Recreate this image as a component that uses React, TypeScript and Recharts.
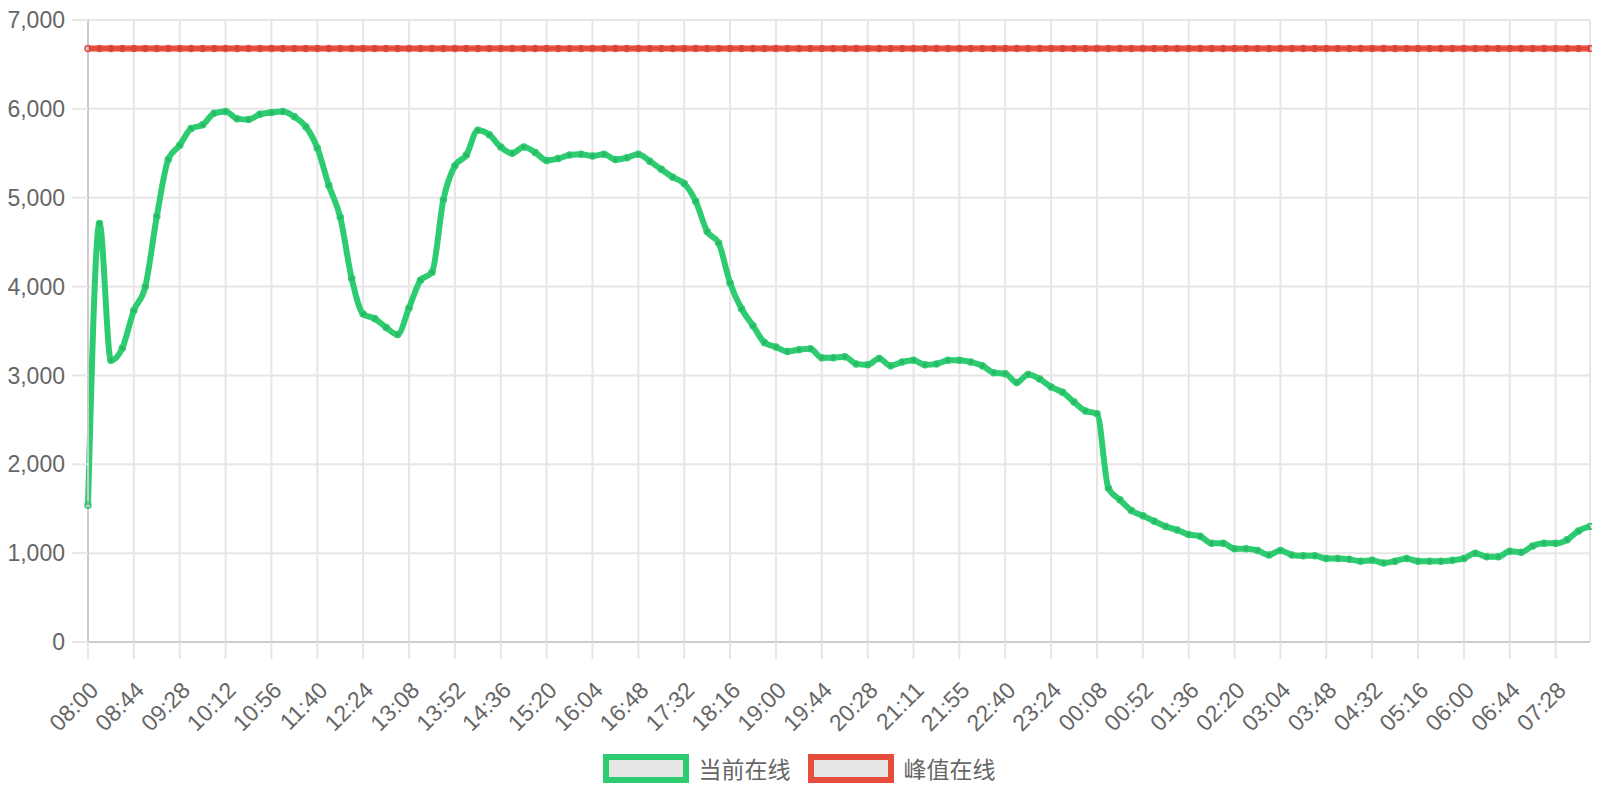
import { CartesianGrid, Legend, Line, LineChart, XAxis, YAxis } from 'recharts'

// 每 11 分钟一个采样点，共 132 个
const TIMES = [
  '08:00', '08:11', '08:22', '08:33', '08:44', '08:55', '09:06', '09:17', '09:28', '09:39',
  '09:50', '10:01', '10:12', '10:23', '10:34', '10:45', '10:56', '11:07', '11:18', '11:29',
  '11:40', '11:51', '12:02', '12:13', '12:24', '12:35', '12:46', '12:57', '13:08', '13:19',
  '13:30', '13:41', '13:52', '14:03', '14:14', '14:25', '14:36', '14:47', '14:58', '15:09',
  '15:20', '15:31', '15:42', '15:53', '16:04', '16:15', '16:26', '16:37', '16:48', '16:59',
  '17:10', '17:21', '17:32', '17:43', '17:54', '18:05', '18:16', '18:27', '18:38', '18:49',
  '19:00', '19:11', '19:22', '19:33', '19:44', '19:55', '20:06', '20:17', '20:28', '20:39',
  '20:50', '21:00', '21:11', '21:22', '21:33', '21:44', '21:55', '22:06', '22:17', '22:29',
  '22:40', '22:51', '23:02', '23:13', '23:24', '23:35', '23:46', '23:57', '00:08', '00:19',
  '00:30', '00:41', '00:52', '01:03', '01:14', '01:25', '01:36', '01:47', '01:58', '02:09',
  '02:20', '02:31', '02:42', '02:53', '03:04', '03:15', '03:26', '03:37', '03:48', '03:59',
  '04:10', '04:21', '04:32', '04:43', '04:54', '05:05', '05:16', '05:27', '05:38', '05:49',
  '06:00', '06:11', '06:22', '06:33', '06:44', '06:55', '07:06', '07:17', '07:28', '07:39',
  '07:50', '08:01',
]

const ONLINE = [
  1540, 4710, 3170, 3310, 3730, 4000, 4790, 5430, 5590, 5780,
  5820, 5950, 5970, 5890, 5880, 5940, 5960, 5970, 5910, 5800,
  5560, 5140, 4780, 4090, 3690, 3640, 3540, 3460, 3760, 4070,
  4160, 4980, 5360, 5480, 5760, 5710, 5570, 5500, 5570, 5510,
  5420, 5440, 5480, 5490, 5470, 5490, 5430, 5450, 5490, 5410,
  5320, 5230, 5160, 4960, 4620, 4490, 4040, 3750, 3560, 3370,
  3320, 3270, 3290, 3300, 3200, 3200, 3210, 3130, 3120, 3190,
  3110, 3150, 3170, 3120, 3130, 3170, 3170, 3150, 3110, 3030,
  3020, 2920, 3010, 2960, 2870, 2810, 2700, 2600, 2570, 1730,
  1600, 1480, 1420, 1360, 1300, 1260, 1210, 1190, 1110, 1110,
  1050, 1050, 1030, 980, 1030, 980, 970, 970, 940, 940,
  930, 910, 920, 890, 910, 940, 910, 910, 910, 920,
  940, 1000, 960, 960, 1020, 1010, 1080, 1110, 1110, 1150,
  1250, 1300,
]

const PEAK_ONLINE = 6680
const Y_TICKS = [0, 1000, 2000, 3000, 4000, 5000, 6000, 7000]

const GREEN = '#2ecc71'
const RED = '#e74c3c'
const TEXT = '#666'
const FONT = '"Liberation Sans", Arial, "Noto Sans CJK SC", sans-serif'

const SERIES = [
  { key: 'current', name: '当前在线', color: GREEN },
  { key: 'peak', name: '峰值在线', color: RED },
]

const data = TIMES.map((t, i) => ({ time: t, current: ONLINE[i], peak: PEAK_ONLINE }))

function XTick({ x, y, payload }: any) {
  return (
    <g transform={`translate(${x + 6},${y + 25})`}>
      <text textAnchor="end" dy="0.35em" transform="rotate(-45)" fill={TEXT} fontSize={23} fontFamily={FONT}>
        {payload.value}
      </text>
    </g>
  )
}

function LegendBoxes() {
  return (
    <div style={{ display: 'flex', justifyContent: 'center', alignItems: 'center', height: 44, fontFamily: FONT }}>
      {SERIES.map((s, i) => (
        <div key={s.key} style={{ display: 'flex', alignItems: 'center', marginRight: i === 0 ? 17 : 0 }}>
          <svg width={86} height={29}>
            <rect x={3} y={3} width={80} height={23} fill="#e6e6e6" stroke={s.color} strokeWidth={6} />
          </svg>
          <span style={{ marginLeft: 10, fontSize: 23, color: TEXT }}>{s.name}</span>
        </div>
      ))}
    </div>
  )
}

export default function App() {
  return (
    <div style={{ width: 1600, height: 800, margin: -8 }}>
      <LineChart width={1600} height={800} data={data} margin={{ top: 20, right: 10, bottom: 10, left: 8 }}>
        <CartesianGrid stroke="#e6e6e6" strokeWidth={2} />
        <XAxis
          dataKey="time"
          interval={3}
          height={104}
          tick={<XTick />}
          tickSize={17}
          axisLine={{ stroke: '#cccccc', strokeWidth: 2 }}
          tickLine={{ stroke: '#e6e6e6', strokeWidth: 2 }}
        />
        <YAxis
          type="number"
          domain={[0, 7000]}
          ticks={Y_TICKS}
          width={80}
          tickSize={16}
          tickMargin={7}
          tickFormatter={(v) => Number(v).toLocaleString('en-US')}
          tick={{ fill: TEXT, fontSize: 23, fontFamily: FONT }}
          axisLine={{ stroke: '#cccccc', strokeWidth: 2 }}
          tickLine={{ stroke: '#e6e6e6', strokeWidth: 2 }}
        />
        <Legend verticalAlign="bottom" height={44} content={<LegendBoxes />} />
        {SERIES.map((s) => (
          <Line
            key={s.key}
            type="monotone"
            dataKey={s.key}
            name={s.name}
            stroke={s.color}
            strokeWidth={6}
            dot={{ r: 3, fill: 'rgba(0,0,0,0.1)', stroke: s.color, strokeWidth: 1.5 }}
            activeDot={false}
            isAnimationActive={false}
          />
        ))}
      </LineChart>
    </div>
  )
}
